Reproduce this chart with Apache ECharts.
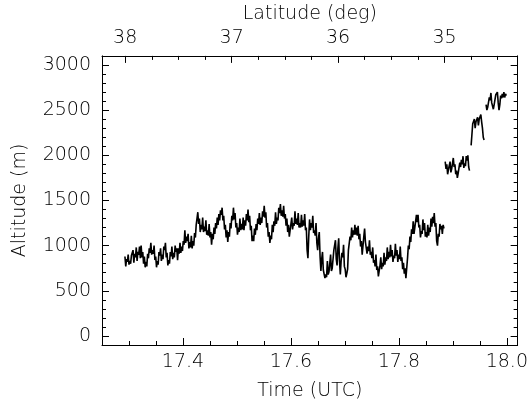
<!DOCTYPE html>
<html>
<head>
<meta charset="utf-8">
<script src="https://cdn.jsdelivr.net/npm/echarts@6/dist/echarts.min.js"></script>
<style>
  html, body { margin: 0; padding: 0; background: #fff; }
  #chart { width: 531px; height: 406px; }
</style>
</head>
<body>
<div id="chart"></div>
<script>
// sampling step of the flight record (hours)
const step = 0.0015;

// segment start times (UTC hours)
const seg1Start = 17.2925;
const seg2Start = 17.8858;
const seg3Start = 17.9338;
const seg4Start = 17.9615;

// altitude values (m)
const seg1Alt = [
  880, 770, 850, 820, 900, 790, 830, 800, 890, 870,
  950, 810, 910, 870, 980, 830, 930, 900, 990, 860,
  1000, 870, 930, 800, 880, 760, 820, 770, 910, 860,
  970, 920, 1030, 900, 950, 910, 1000, 840, 880, 760,
  830, 790, 930, 890, 970, 830, 900, 850, 990, 950,
  1030, 870, 920, 780, 840, 800, 930, 880, 990, 850,
  920, 870, 1000, 930, 970, 840, 970, 910, 1030, 920,
  990, 940, 1050, 1010, 1170, 1030, 1100, 1050, 1130, 970,
  1040, 980, 1110, 970, 1050, 1000, 1140, 1090, 1230, 1210,
  1370, 1240, 1300, 1150, 1230, 1180, 1310, 1150, 1210, 1160,
  1280, 1120, 1170, 1110, 1240, 1090, 1150, 1010, 1130, 1070,
  1200, 1130, 1250, 1190, 1310, 1230, 1350, 1280, 1390, 1340,
  1420, 1280, 1330, 1180, 1230, 1090, 1170, 1040, 1150, 1100,
  1250, 1190, 1330, 1280, 1420, 1290, 1360, 1200, 1250, 1120,
  1200, 1150, 1300, 1170, 1240, 1180, 1310, 1170, 1280, 1220,
  1350, 1280, 1400, 1260, 1330, 1170, 1220, 1050, 1110, 1050,
  1190, 1120, 1240, 1170, 1300, 1240, 1360, 1230, 1310, 1250,
  1380, 1320, 1440, 1310, 1370, 1200, 1250, 1100, 1150, 1030,
  1110, 1070, 1230, 1150, 1270, 1220, 1370, 1240, 1310, 1280,
  1420, 1360, 1460, 1330, 1390, 1320, 1440, 1300, 1350, 1220,
  1300, 1150, 1230, 1100, 1170, 1150, 1310, 1180, 1250, 1220,
  1380, 1240, 1300, 1230, 1360, 1200, 1250, 1200, 1340, 1210,
  1280, 1220, 1350, 1170, 1200, 950, 860, 1100, 1290, 1170,
  1250, 1200, 1330, 1140, 1170, 1110, 1250, 1030, 950, 1080,
  1150, 880, 720, 850, 930, 730, 750, 640, 680, 650,
  830, 680, 710, 720, 900, 720, 750, 760, 950, 930,
  1060, 850, 780, 970, 1080, 830, 680, 830, 920, 870,
  1010, 770, 740, 650, 690, 740, 950, 930, 1100, 1060,
  1200, 1090, 1170, 1120, 1230, 1120, 1200, 1110, 1220, 1070,
  1130, 990, 1050, 900, 900, 1100, 1190, 1040, 1050, 910,
  990, 940, 1060, 900, 930, 860, 980, 810, 840, 770,
  900, 730, 770, 660, 650, 780, 870, 740, 810, 770,
  920, 790, 870, 830, 980, 850, 930, 870, 1010, 880,
  950, 820, 890, 860, 1020, 890, 950, 820, 900, 850,
  990, 830, 870, 740, 810, 690, 750, 640, 660, 860,
  1000, 960, 1100, 1040, 1180, 1130, 1270, 1130, 1200, 1180,
  1340, 1260, 1340, 1200, 1230, 1090, 1160, 1130, 1290, 1170,
  1250, 1100, 1150, 1090, 1230, 1110, 1200, 1150, 1300, 1210,
  1320, 1250, 1360, 1210, 1250, 1050, 1000, 1130, 1100, 1240,
  1180, 1220, 1130, 1230, 1190
];
const seg2Alt = [
  1930, 1850, 1900, 1790, 1840, 1830, 1930, 1810, 1850, 1850,
  1970, 1870, 1900, 1790, 1830, 1750, 1800, 1790, 1920, 1870,
  1950, 1900, 1990, 1860, 1910, 1880, 1990, 1940, 2000, 1870,
  1830
];
const seg3Alt = [
  2110, 2230, 2350, 2330, 2400, 2300, 2370, 2350, 2420, 2330,
  2400, 2380, 2450, 2370, 2300, 2200, 2170
];
const seg4Alt = [
  2560, 2500, 2530, 2520, 2640, 2610, 2690, 2580, 2590, 2510,
  2560, 2560, 2670, 2650, 2700, 2580, 2500, 2560, 2660, 2630,
  2680, 2640, 2700, 2640, 2680, 2660, 2690
];

// axis ranges
const timeMin = 17.25, timeMax = 18.02;
const latLeft = 38.218, latRight = 34.313;
const altMin = -100, altMax = 3100;

function toPairs(t0, alts) {
  return alts.map((a, i) => [t0 + i * step, a]);
}

const font = "'DejaVu Sans', sans-serif";
const ink = "#000";
const labelStyle = { color: ink, fontSize: 19, fontFamily: font, fontWeight: 200 };

const tickStyle = (len) => ({ show: true, inside: true, length: len, lineStyle: { color: ink, width: 1 } });
const minorStyle = (n) => ({ show: true, splitNumber: n, length: 4, lineStyle: { color: ink, width: 1 } });
const lineStyle = { show: true, onZero: false, lineStyle: { color: ink, width: 1 } };

const chart = echarts.init(document.getElementById("chart"), null, { renderer: "canvas" });

const segments = [
  toPairs(seg1Start, seg1Alt),
  toPairs(seg2Start, seg2Alt),
  toPairs(seg3Start, seg3Alt),
  toPairs(seg4Start, seg4Alt),
];

const option = {
  animation: false,
  backgroundColor: "#fff",
  grid: { left: 102, right: 13, top: 51, bottom: 61 },
  xAxis: [
    {
      type: "value",
      position: "bottom",
      min: timeMin,
      max: timeMax,
      axisLine: lineStyle,
      axisTick: tickStyle(7),
      minorTick: minorStyle(4),
      splitLine: { show: false },
      axisLabel: {
        ...labelStyle,
        margin: 8,
        formatter: (v) => (Math.abs(v * 5 - Math.round(v * 5)) < 1e-6 ? v.toFixed(1) : ""),
      },
      name: "Time (UTC)",
      nameLocation: "middle",
      nameGap: 37,
      nameTextStyle: labelStyle,
    },
    {
      type: "value",
      position: "top",
      min: latRight,
      max: latLeft,
      inverse: true,
      axisLine: lineStyle,
      axisTick: tickStyle(7),
      minorTick: minorStyle(4),
      splitLine: { show: false },
      axisLabel: {
        ...labelStyle,
        margin: 8,
        formatter: (v) => (Math.abs(v - Math.round(v)) < 1e-6 ? String(Math.round(v)) : ""),
      },
      name: "Latitude (deg)",
      nameLocation: "middle",
      nameGap: 22,
      nameTextStyle: labelStyle,
    },
  ],
  yAxis: [
    {
      type: "value",
      position: "left",
      min: altMin,
      max: altMax,
      axisLine: lineStyle,
      axisTick: tickStyle(7),
      minorTick: minorStyle(5),
      splitLine: { show: false },
      axisLabel: {
        ...labelStyle,
        margin: 11,
        formatter: (v) => (v % 500 === 0 && v >= 0 ? String(v) : ""),
      },
      name: "Altitude (m)",
      nameLocation: "middle",
      nameGap: 72,
      nameRotate: 90,
      nameTextStyle: labelStyle,
    },
    {
      type: "value",
      position: "right",
      min: altMin,
      max: altMax,
      axisLine: lineStyle,
      axisTick: tickStyle(7),
      minorTick: minorStyle(5),
      splitLine: { show: false },
      axisLabel: { show: false },
    },
  ],
  series: segments.map((data) => ({
    type: "line",
    xAxisIndex: 0,
    yAxisIndex: 0,
    data,
    showSymbol: false,
    lineStyle: { color: "#000", width: 1.6 },
    silent: true,
  })),
};

chart.setOption(option);
</script>
</body>
</html>
